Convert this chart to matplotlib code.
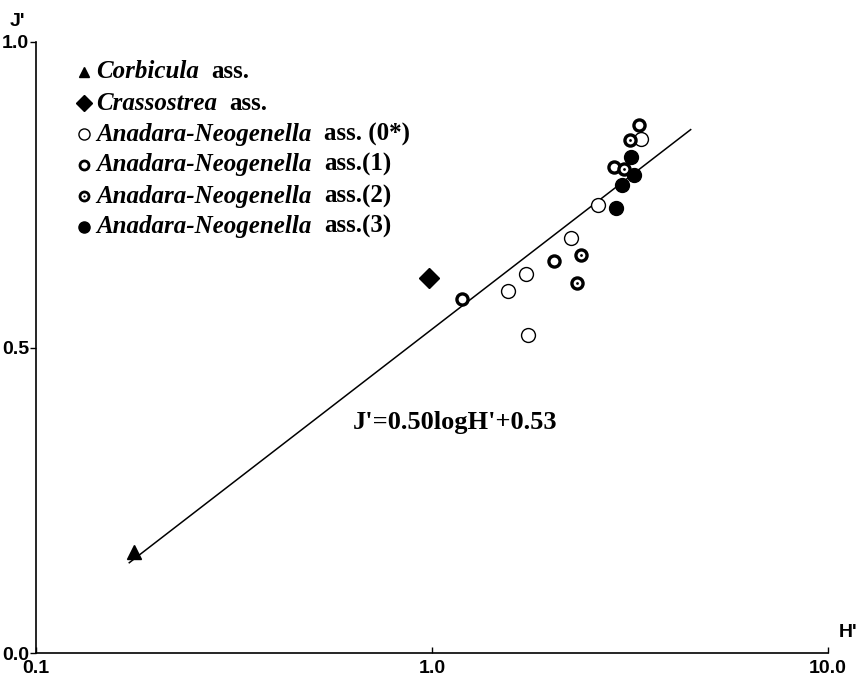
import numpy as np
import matplotlib
matplotlib.use("Agg")
import matplotlib.pyplot as plt

# ---- data ----
corbicula_H = [0.177]
corbicula_J = [0.165]

crassostrea_H = [0.983]
crassostrea_J = [0.614]

ana0_H = [1.56, 1.73, 1.75, 2.25, 2.62, 3.37]
ana0_J = [0.593, 0.621, 0.520, 0.680, 0.733, 0.842]

ana1_H = [1.19, 2.03, 2.88, 3.33]
ana1_J = [0.580, 0.642, 0.795, 0.864]

ana2_H = [2.38, 2.32, 3.05, 3.17]
ana2_J = [0.651, 0.606, 0.792, 0.840]

ana3_H = [2.92, 3.01, 3.24, 3.18]
ana3_J = [0.728, 0.766, 0.782, 0.811]

fit_slope = 0.50
fit_intercept = 0.53
fit_range = [0.172, 4.5]

y_ticks = [0.0, 0.5, 1.0]
y_ticklabels = ["0.0", "0.5", "1.0"]
x_ticks = [0.1, 1.0, 10.0]
x_ticklabels = ["0.1", "1.0", "10.0"]

legend_genus = ["Corbicula", "Crassostrea", "Anadara-Neogenella", "Anadara-Neogenella",
                "Anadara-Neogenella", "Anadara-Neogenella"]
legend_suffix = ["ass.", "ass.", "ass. (0*)", "ass.(1)", "ass.(2)", "ass.(3)"]

# ---- figure ----
W, H = 863, 677
fig = plt.figure(figsize=(W / 100, H / 100), dpi=100)
ax = fig.add_axes([36 / W, 1 - 653 / H, (828 - 36) / W, (653 - 42) / H])
ax.set_xscale("log")
ax.set_xlim(0.1, 10.0)
ax.set_ylim(0.0, 1.0)
for s in ["top", "right"]:
    ax.spines[s].set_visible(False)
ax.spines["left"].set_linewidth(1.2)
ax.spines["bottom"].set_linewidth(1.2)
ax.minorticks_off()

tickfont = dict(family=["Liberation Sans Narrow", "Liberation Sans", "DejaVu Sans"],
                weight="bold", size=14)
ax.set_yticks(y_ticks)
ax.set_yticklabels(y_ticklabels, **tickfont)
ax.set_xticks(x_ticks)
ax.set_xticklabels(x_ticklabels, **tickfont)
ax.tick_params(axis="y", direction="out", length=4, width=1, pad=1)
ax.tick_params(axis="x", direction="in", length=4, width=1, pad=5)

ax.text(-0.023, 1.033, "J'", transform=ax.transAxes, ha="center", va="center", **tickfont)
ax.text(1.025, 0.034, "H'", transform=ax.transAxes, ha="center", va="center", **tickfont)

# regression line
xf = np.array(fit_range)
xs = np.logspace(np.log10(xf[0]), np.log10(xf[1]), 50)
ax.plot(xs, fit_slope * np.log10(xs) + fit_intercept, color="black", lw=1.1, zorder=2)

# markers
st = dict(linestyle="none", zorder=3)
s_tri = dict(marker="^", ms=9.5, mfc="black", mec="black", **st)
s_dia = dict(marker="D", ms=10, mfc="black", mec="black", **st)
s_a0 = dict(marker="o", ms=10, mfc="white", mec="black", mew=1.0, **st)
s_a1 = dict(marker="o", ms=8, mfc="white", mec="black", mew=2.4, **st)
s_a2 = dict(marker="o", ms=8, mfc="white", mec="black", mew=2.4, **st)
s_a2dot = dict(marker="o", ms=2, mfc="black", mec="black", mew=0, linestyle="none", zorder=4)
s_a3 = dict(marker="o", ms=10, mfc="black", mec="black", **st)

ax.plot(corbicula_H, corbicula_J, **s_tri)
ax.plot(crassostrea_H, crassostrea_J, **s_dia)
ax.plot(ana0_H, ana0_J, **s_a0)
ax.plot(ana1_H, ana1_J, **s_a1)
ax.plot(ana2_H, ana2_J, **s_a2)
ax.plot(ana2_H, ana2_J, **s_a2dot)
ax.plot(ana3_H, ana3_J, **s_a3)

# equation
ax.text((455 - 36) / 792, (653 - 423) / 611, "J'=0.50logH'+0.53", transform=ax.transAxes,
        ha="center", va="center", family="Liberation Serif", weight="bold", size=19)

# legend (manual)
rows_py = [72, 103, 134, 165, 196, 227]
styles = [s_tri, s_dia, s_a0, s_a1, s_a2, s_a3]
mk_sizes = [7, 8, 8, 6.5, 6.5, 8]
for i, (g, suf, sty, ms) in enumerate(zip(legend_genus, legend_suffix, styles, mk_sizes)):
    yf = (653 - rows_py[i]) / 611
    sty2 = dict(sty)
    sty2["ms"] = ms
    if "mew" in sty2 and sty2["mew"] > 2:
        sty2["mew"] = 2.0
    ax.plot([(84 - 36) / 792], [yf], transform=ax.transAxes, clip_on=False, **sty2)
    if i == 4:
        ax.plot([(84 - 36) / 792], [yf], transform=ax.transAxes, clip_on=False,
                **dict(s_a2dot, ms=1.6))
    t1 = ax.text((96 - 36) / 792, yf, g, transform=ax.transAxes, ha="left", va="center",
                 family="Liberation Serif", style="italic", weight="bold", size=18)
    ax.annotate(suf, xy=(1, 0), xycoords=t1, xytext=(9, 0), textcoords="offset points",
                ha="left", va="bottom", family="Liberation Serif", weight="bold", size=18)

fig.savefig("out.png", dpi=100, facecolor="white")
